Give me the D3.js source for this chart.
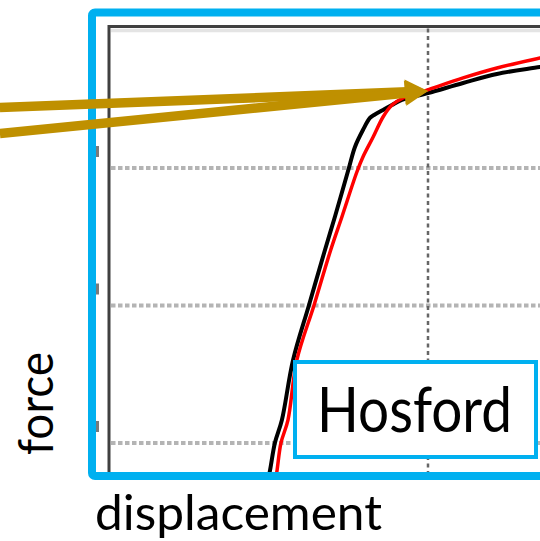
<!DOCTYPE html>
<html>
<head>
<meta charset="utf-8">
<script src="https://cdn.jsdelivr.net/npm/d3@7"></script>
<style>
  html, body { margin: 0; padding: 0; background: #fff; overflow: hidden; }
  svg { display: block; }
  text { font-family: Lato, "Open Sans", sans-serif; fill: #000; }
</style>
</head>
<body>
<svg id="chart" width="540" height="541"></svg>
<script>
// measured curve (black) and Hosford fit (red), displacement vs force
var blackDisp  = [0.495, 0.505, 0.520, 0.542, 0.577, 0.627, 0.677, 0.708, 0.752, 0.771, 0.796, 0.818, 0.831, 0.859, 0.887, 0.918, 1.000, 1.110, 1.216, 1.351, 1.40];
var blackForce = [0.695, 0.804, 1.000, 1.167, 1.604, 2.004, 2.404, 2.644, 3.000, 3.153, 3.276, 3.364, 3.385, 3.422, 3.458, 3.495, 3.545, 3.618, 3.684, 3.735, 3.755];
var redDisp    = [0.520, 0.527, 0.539, 0.561, 0.589, 0.643, 0.695, 0.730, 0.777, 0.796, 0.828, 0.859, 0.887, 0.922, 0.997, 1.110, 1.216, 1.351, 1.40];
var redForce   = [0.695, 0.804, 1.000, 1.167, 1.604, 2.004, 2.404, 2.644, 2.971, 3.080, 3.225, 3.371, 3.458, 3.509, 3.567, 3.655, 3.727, 3.800, 3.825];

var xGrid = [1];
var yGrid = [1, 2, 3];

// annotation arrows (data units): two shafts meeting at one tip
var arrowStarts = [[-0.342, 3.440], [-0.342, 3.251]];
var arrowTip = [1.0, 3.56];

var xLabel = "displacement";
var yLabel = "force";
var boxLabel = "Hosford";

var svg = d3.select("#chart");

var x = d3.scaleLinear().domain([0, 1.4]).range([109, 109 + 319 * 1.4]);
var y = d3.scaleLinear().domain([0, 4]).range([580.5, 30.5]);

var plotTop = 26.5, plotBottom = 476, plotLeft = 109;

// clip for the plot content
svg.append("defs").append("clipPath").attr("id", "plotclip")
  .append("rect")
    .attr("x", plotLeft + 1.5).attr("y", plotTop + 1.5)
    .attr("width", 600).attr("height", plotBottom - 4 - plotTop - 1.5);

// light band under the frame top
svg.append("line")
  .attr("x1", plotLeft + 2).attr("x2", 560)
  .attr("y1", plotTop + 4).attr("y2", plotTop + 4)
  .attr("stroke", "#e4e4e4").attr("stroke-width", 3.5);

// horizontal dotted grid
svg.append("g").selectAll("line")
  .data(yGrid).enter().append("line")
    .attr("x1", plotLeft + 2).attr("x2", 560)
    .attr("y1", function (d) { return y(d); })
    .attr("y2", function (d) { return y(d); })
    .attr("stroke", "#b4b4b4").attr("stroke-width", 4)
    .attr("stroke-dasharray", "4.5,2.5");

// vertical dashed grid
svg.append("g").selectAll("line")
  .data(xGrid).enter().append("line")
    .attr("x1", function (d) { return x(d); })
    .attr("x2", function (d) { return x(d); })
    .attr("y1", plotTop + 2).attr("y2", plotBottom)
    .attr("stroke", "#666").attr("stroke-width", 2.5)
    .attr("stroke-dasharray", "4,3.5");

// dark plot frame (left + top)
svg.append("path")
  .attr("d", "M" + plotLeft + "," + plotBottom + "V" + plotTop + "H560")
  .attr("fill", "none").attr("stroke", "#404040").attr("stroke-width", 3);

// remnants of tick labels peeking out left of the frame
svg.append("g").selectAll("rect")
  .data(yGrid).enter().append("rect")
    .attr("x", 95.5).attr("width", 3.5)
    .attr("y", function (d) { return y(d) - 22; })
    .attr("height", 11)
    .attr("fill", "#7a7a7a");

// curves
var line = d3.line()
  .curve(d3.curveCatmullRom.alpha(0.5))
  .x(function (d) { return x(d[0]); })
  .y(function (d) { return y(d[1]); });

var curves = svg.append("g").attr("clip-path", "url(#plotclip)");
curves.append("path")
  .datum(d3.zip(blackDisp, blackForce))
  .attr("d", line)
  .attr("fill", "none").attr("stroke", "#000").attr("stroke-width", 4)
  .attr("stroke-linejoin", "round");
curves.append("path")
  .datum(d3.zip(redDisp, redForce))
  .attr("d", line)
  .attr("fill", "none").attr("stroke", "#ff0000").attr("stroke-width", 3.5)
  .attr("stroke-linejoin", "round");

// blue outer frame
svg.append("rect")
  .attr("x", 92).attr("y", 12.5)
  .attr("width", 620).attr("height", plotBottom - 12.5)
  .attr("rx", 3)
  .attr("fill", "none").attr("stroke", "#00b0f0").attr("stroke-width", 8);

// arrows
var gold = "#bf9000";
var tx = x(arrowTip[0]), ty = y(arrowTip[1]);
arrowStarts.forEach(function (s) {
  var sx = x(s[0]), sy = y(s[1]);
  var dx = tx - sx, dy = ty - sy, len = Math.sqrt(dx * dx + dy * dy);
  var ux = dx / len, uy = dy / len;
  var headLen = 23, headHalf = 12.5;
  var bx = tx - ux * headLen, by = ty - uy * headLen;
  svg.append("line")
    .attr("x1", sx).attr("y1", sy).attr("x2", bx + ux * 2).attr("y2", by + uy * 2)
    .attr("stroke", gold).attr("stroke-width", 9.5);
  svg.append("path")
    .attr("d", "M" + tx + "," + ty +
               "L" + (bx - uy * headHalf) + "," + (by + ux * headHalf) +
               "L" + (bx + uy * headHalf) + "," + (by - ux * headHalf) + "Z")
    .attr("fill", gold);
});

// Hosford label box
svg.append("rect")
  .attr("x", 295).attr("y", 362).attr("width", 241).attr("height", 95)
  .attr("fill", "#fff").attr("stroke", "#00b0f0").attr("stroke-width", 4);
svg.append("text")
  .attr("x", 317).attr("y", 432)
  .attr("font-size", 61)
  .attr("textLength", 195).attr("lengthAdjust", "spacingAndGlyphs")
  .text(boxLabel);

// axis titles
svg.append("text")
  .attr("x", 95).attr("y", 530)
  .attr("font-size", 49)
  .attr("textLength", 287).attr("lengthAdjust", "spacingAndGlyphs")
  .text(xLabel);
svg.append("text")
  .attr("transform", "translate(53,455) rotate(-90)")
  .attr("font-size", 49)
  .attr("textLength", 103).attr("lengthAdjust", "spacingAndGlyphs")
  .text(yLabel);
</script>
</body>
</html>
